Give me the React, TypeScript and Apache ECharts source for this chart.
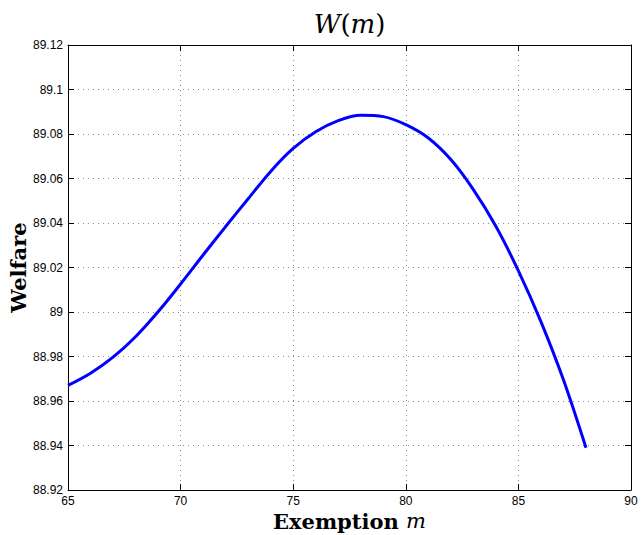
import React, { useEffect, useRef } from "react";
import * as echarts from "echarts";

const exemption: number[] = [65, 66, 67, 68, 69, 70, 71, 72, 73, 74, 75, 76, 77, 78, 79, 80, 81, 82, 83, 84, 85, 86, 87, 88];
const welfare: number[] = [
  88.967, 88.9725, 88.9797, 88.9889, 89.0001, 89.0126, 89.0256, 89.0384, 89.0509, 89.0632,
  89.0735, 89.081, 89.086, 89.0884, 89.0878, 89.0842, 89.0782, 89.0685, 89.055, 89.0385,
  89.0185, 88.9957, 88.9695, 88.939,
];
const xTicks = { min: 65, max: 90, step: 5 };
const yTicks = { min: 88.92, max: 89.12, step: 0.02 };

const GRID = { left: 68, right: 11, top: 45, bottom: 45 };

export default function App() {
  const ref = useRef<HTMLDivElement>(null);
  useEffect(() => {
    if (!ref.current) return;
    const chart = echarts.init(ref.current, null, { renderer: "svg" });
    const tickFont = "Liberation Sans";
    const serif = "DejaVu Serif";
    const axisLine = { show: true, onZero: false, lineStyle: { color: "#000", width: 1 } };
    const axisTick = { show: true, inside: true, length: 6, lineStyle: { color: "#000", width: 1 } };
    const split = { show: true, lineStyle: { color: "#8a8a8a", width: 1, type: [1, 4] as any } };
    const plotCx = GRID.left + (642 - GRID.left - GRID.right) / 2;
    const plotCy = GRID.top + (535 - GRID.top - GRID.bottom) / 2;
    chart.setOption({
      animation: false,
      backgroundColor: "#fff",
      grid: { left: GRID.left, right: GRID.right, top: GRID.top, bottom: GRID.bottom, containLabel: false },
      xAxis: [
        {
          type: "value",
          position: "bottom",
          min: xTicks.min,
          max: xTicks.max,
          interval: xTicks.step,
          axisLine,
          axisTick,
          axisLabel: { color: "#000", fontSize: 12, fontFamily: tickFont, margin: 5 },
          splitLine: split,
        },
        {
          type: "value",
          position: "top",
          min: xTicks.min,
          max: xTicks.max,
          interval: xTicks.step,
          axisLine,
          axisTick,
          axisLabel: { show: false },
          splitLine: { show: false },
        },
      ],
      yAxis: [
        {
          type: "value",
          position: "left",
          min: yTicks.min,
          max: yTicks.max,
          interval: yTicks.step,
          axisLine,
          axisTick,
          axisLabel: {
            color: "#000",
            fontSize: 12,
            fontFamily: tickFont,
            margin: 5,
            formatter: (v: number) => String(parseFloat(v.toFixed(2))),
          },
          splitLine: split,
        },
        {
          type: "value",
          position: "right",
          min: yTicks.min,
          max: yTicks.max,
          interval: yTicks.step,
          axisLine,
          axisTick,
          axisLabel: { show: false },
          splitLine: { show: false },
        },
      ],
      series: [
        {
          type: "line",
          xAxisIndex: 0,
          yAxisIndex: 0,
          data: exemption.map((m, i) => [m, welfare[i]]),
          showSymbol: false,
          smooth: 0.33,
          smoothConstraint: false,
          lineStyle: { color: "#0000ff", width: 3 },
          itemStyle: { color: "#0000ff" },
        },
      ],
      graphic: [
        {
          type: "text",
          x: plotCx,
          y: 24,
          style: {
            text: "{i|W}{r|(}{i|m}{r|)}",
            align: "center",
            verticalAlign: "middle",
            fill: "#000",
            rich: {
              i: { fontFamily: serif, fontStyle: "italic", fontSize: 26, fill: "#000" },
              r: { fontFamily: serif, fontSize: 26, fill: "#000" },
            },
          },
        },
        {
          type: "text",
          x: plotCx,
          y: 521,
          style: {
            text: "{b|Exemption }{i|m}",
            align: "center",
            verticalAlign: "middle",
            fill: "#000",
            rich: {
              b: { fontFamily: serif, fontWeight: "bold", fontSize: 21, fill: "#000" },
              i: { fontFamily: serif, fontStyle: "italic", fontSize: 21, fill: "#000" },
            },
          },
        },
        {
          type: "text",
          x: 18,
          y: plotCy,
          rotation: Math.PI / 2,
          style: {
            text: "Welfare",
            align: "center",
            verticalAlign: "middle",
            fill: "#000",
            font: "bold 21px 'DejaVu Serif'",
          },
        },
      ],
    });
    return () => chart.dispose();
  }, []);
  return (
    <div
      ref={ref}
      style={{ position: "absolute", left: 0, top: 0, width: 642, height: 535, background: "#fff" }}
    />
  );
}
